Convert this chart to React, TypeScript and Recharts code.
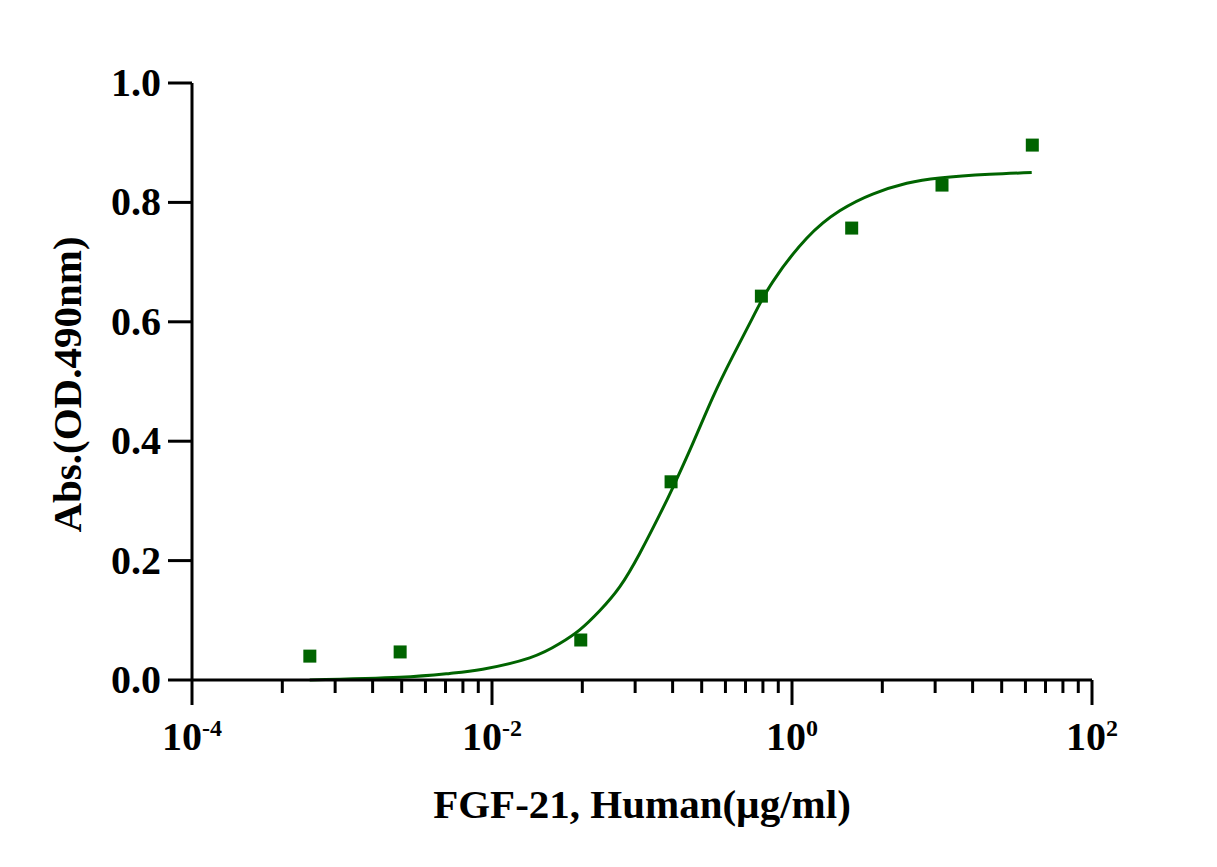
import React from 'react';
import {
  ComposedChart,
  Line,
  Scatter,
  XAxis,
  YAxis,
} from 'recharts';

// measured points (4-fold dilution series)
const concentrations = [0.00061035, 0.0024414, 0.0390625, 0.15625, 0.625, 2.5, 10, 40];
const absorbance = [0.04, 0.047, 0.067, 0.332, 0.643, 0.757, 0.829, 0.896];

// fitted curve
const fitConc = [
  0.000609, 0.002425, 0.005224, 0.00867, 0.01784, 0.02827, 0.03843, 0.05224,
  0.07101, 0.09654, 0.1312, 0.1602, 0.2178, 0.296, 0.4024, 0.547, 0.7436,
  1.253, 2.08, 3.451, 5.818, 9.654, 20.8, 39.64,
];
const fitAbs = [
  0.0, 0.0045, 0.011, 0.018, 0.037, 0.061, 0.084, 0.116,
  0.156, 0.212, 0.277, 0.322, 0.396, 0.473, 0.542, 0.607, 0.667,
  0.74, 0.786, 0.814, 0.832, 0.841, 0.847, 0.85,
];

const majorTicks = [0.0001, 0.01, 1, 100];
const majorExponents = ['-4', '-2', '0', '2'];
const minorTicks = [
  0.0004, 0.0009, 0.0016, 0.0025, 0.0036, 0.0049, 0.0064, 0.0081,
  0.04, 0.09, 0.16, 0.25, 0.36, 0.49, 0.64, 0.81,
  4, 9, 16, 25, 36, 49, 64, 81,
];
const yTicks = [0, 0.2, 0.4, 0.6, 0.8, 1.0];

const xLabel = 'FGF-21, Human(\u00b5g/ml)';
const yLabel = 'Abs.(OD.490nm)';

const points = concentrations.map((x, i) => ({ x, y: absorbance[i] }));
const curve = fitConc.map((x, i) => ({ x, y: fitAbs[i] }));
const xTicks = [...majorTicks, ...minorTicks].sort((a, b) => a - b);

const GREEN = '#006400';
const FONT = "'Liberation Serif', 'Times New Roman', serif";

const XTick = (props: any) => {
  const { x, y, payload } = props;
  const idx = majorTicks.findIndex((t) => Math.abs(t - payload.value) / t < 1e-6);
  if (idx < 0) {
    return <line x1={x} x2={x} y1={y} y2={y + 13} stroke='#000' strokeWidth={3} />;
  }
  return (
    <g>
      <line x1={x} x2={x} y1={y} y2={y + 25} stroke='#000' strokeWidth={3} />
      <text
        x={x}
        y={y + 70}
        textAnchor='middle'
        fontFamily={FONT}
        fontWeight='bold'
        fontSize={40}
        fill='#000'
      >
        <tspan>10</tspan>
        <tspan dy={-14} fontSize={24}>
          {majorExponents[idx]}
        </tspan>
      </text>
    </g>
  );
};

const YTick = (props: any) => {
  const { x, y, payload } = props;
  return (
    <g>
      <line x1={x - 24} x2={x} y1={y} y2={y} stroke='#000' strokeWidth={3} />
      <text
        x={x - 31}
        y={y + 13}
        textAnchor='end'
        fontFamily={FONT}
        fontWeight='bold'
        fontSize={40}
        fill='#000'
      >
        {Number(payload.value).toFixed(1)}
      </text>
    </g>
  );
};

const XTitle = (props: any) => {
  const { viewBox } = props;
  const cx = viewBox.x + viewBox.width / 2;
  return (
    <text
      x={cx}
      y={viewBox.y + 138}
      textAnchor='middle'
      fontFamily={FONT}
      fontWeight='bold'
      fontSize={41}
      fill='#000'
    >
      {xLabel}
    </text>
  );
};

const YTitle = (props: any) => {
  const { viewBox } = props;
  const cx = 73;
  const cy = viewBox.y + viewBox.height / 2 + 3;
  return (
    <text
      x={cx}
      y={cy}
      transform={`rotate(-90, ${cx}, ${cy})`}
      textAnchor='middle'
      fontFamily={FONT}
      fontWeight='bold'
      fontSize={41}
      fill='#000'
    >
      {yLabel}
    </text>
  );
};

const Square = (props: any) => {
  const { cx, cy } = props;
  return <rect x={cx - 6.5} y={cy - 6.5} width={13} height={13} fill={GREEN} />;
};

const App: React.FC = () => {
  return (
    <div style={{ background: '#fff' }}>
      <ComposedChart
        width={1201}
        height={851}
        margin={{ top: 75, right: 117, bottom: 0, left: 0 }}
      >
        <XAxis
          dataKey='x'
          type='number'
          scale='log'
          domain={[0.0001, 100]}
          allowDataOverflow
          ticks={xTicks}
          interval={0}
          tick={<XTick />}
          tickLine={false}
          tickSize={0}
          tickMargin={0}
          height={179}
          axisLine={{ stroke: '#000', strokeWidth: 3 }}
          label={<XTitle />}
        />
        <YAxis
          dataKey='y'
          type='number'
          domain={[0, 1]}
          ticks={yTicks}
          interval={0}
          tick={<YTick />}
          tickLine={false}
          tickSize={0}
          tickMargin={0}
          width={184}
          axisLine={{ stroke: '#000', strokeWidth: 3 }}
          label={<YTitle />}
        />
        <Line
          data={curve}
          dataKey='y'
          type='natural'
          stroke={GREEN}
          strokeWidth={3}
          dot={false}
          activeDot={false}
          isAnimationActive={false}
        />
        <Scatter
          data={points}
          dataKey='y'
          fill={GREEN}
          shape={<Square />}
          isAnimationActive={false}
        />
      </ComposedChart>
    </div>
  );
};

export default App;
